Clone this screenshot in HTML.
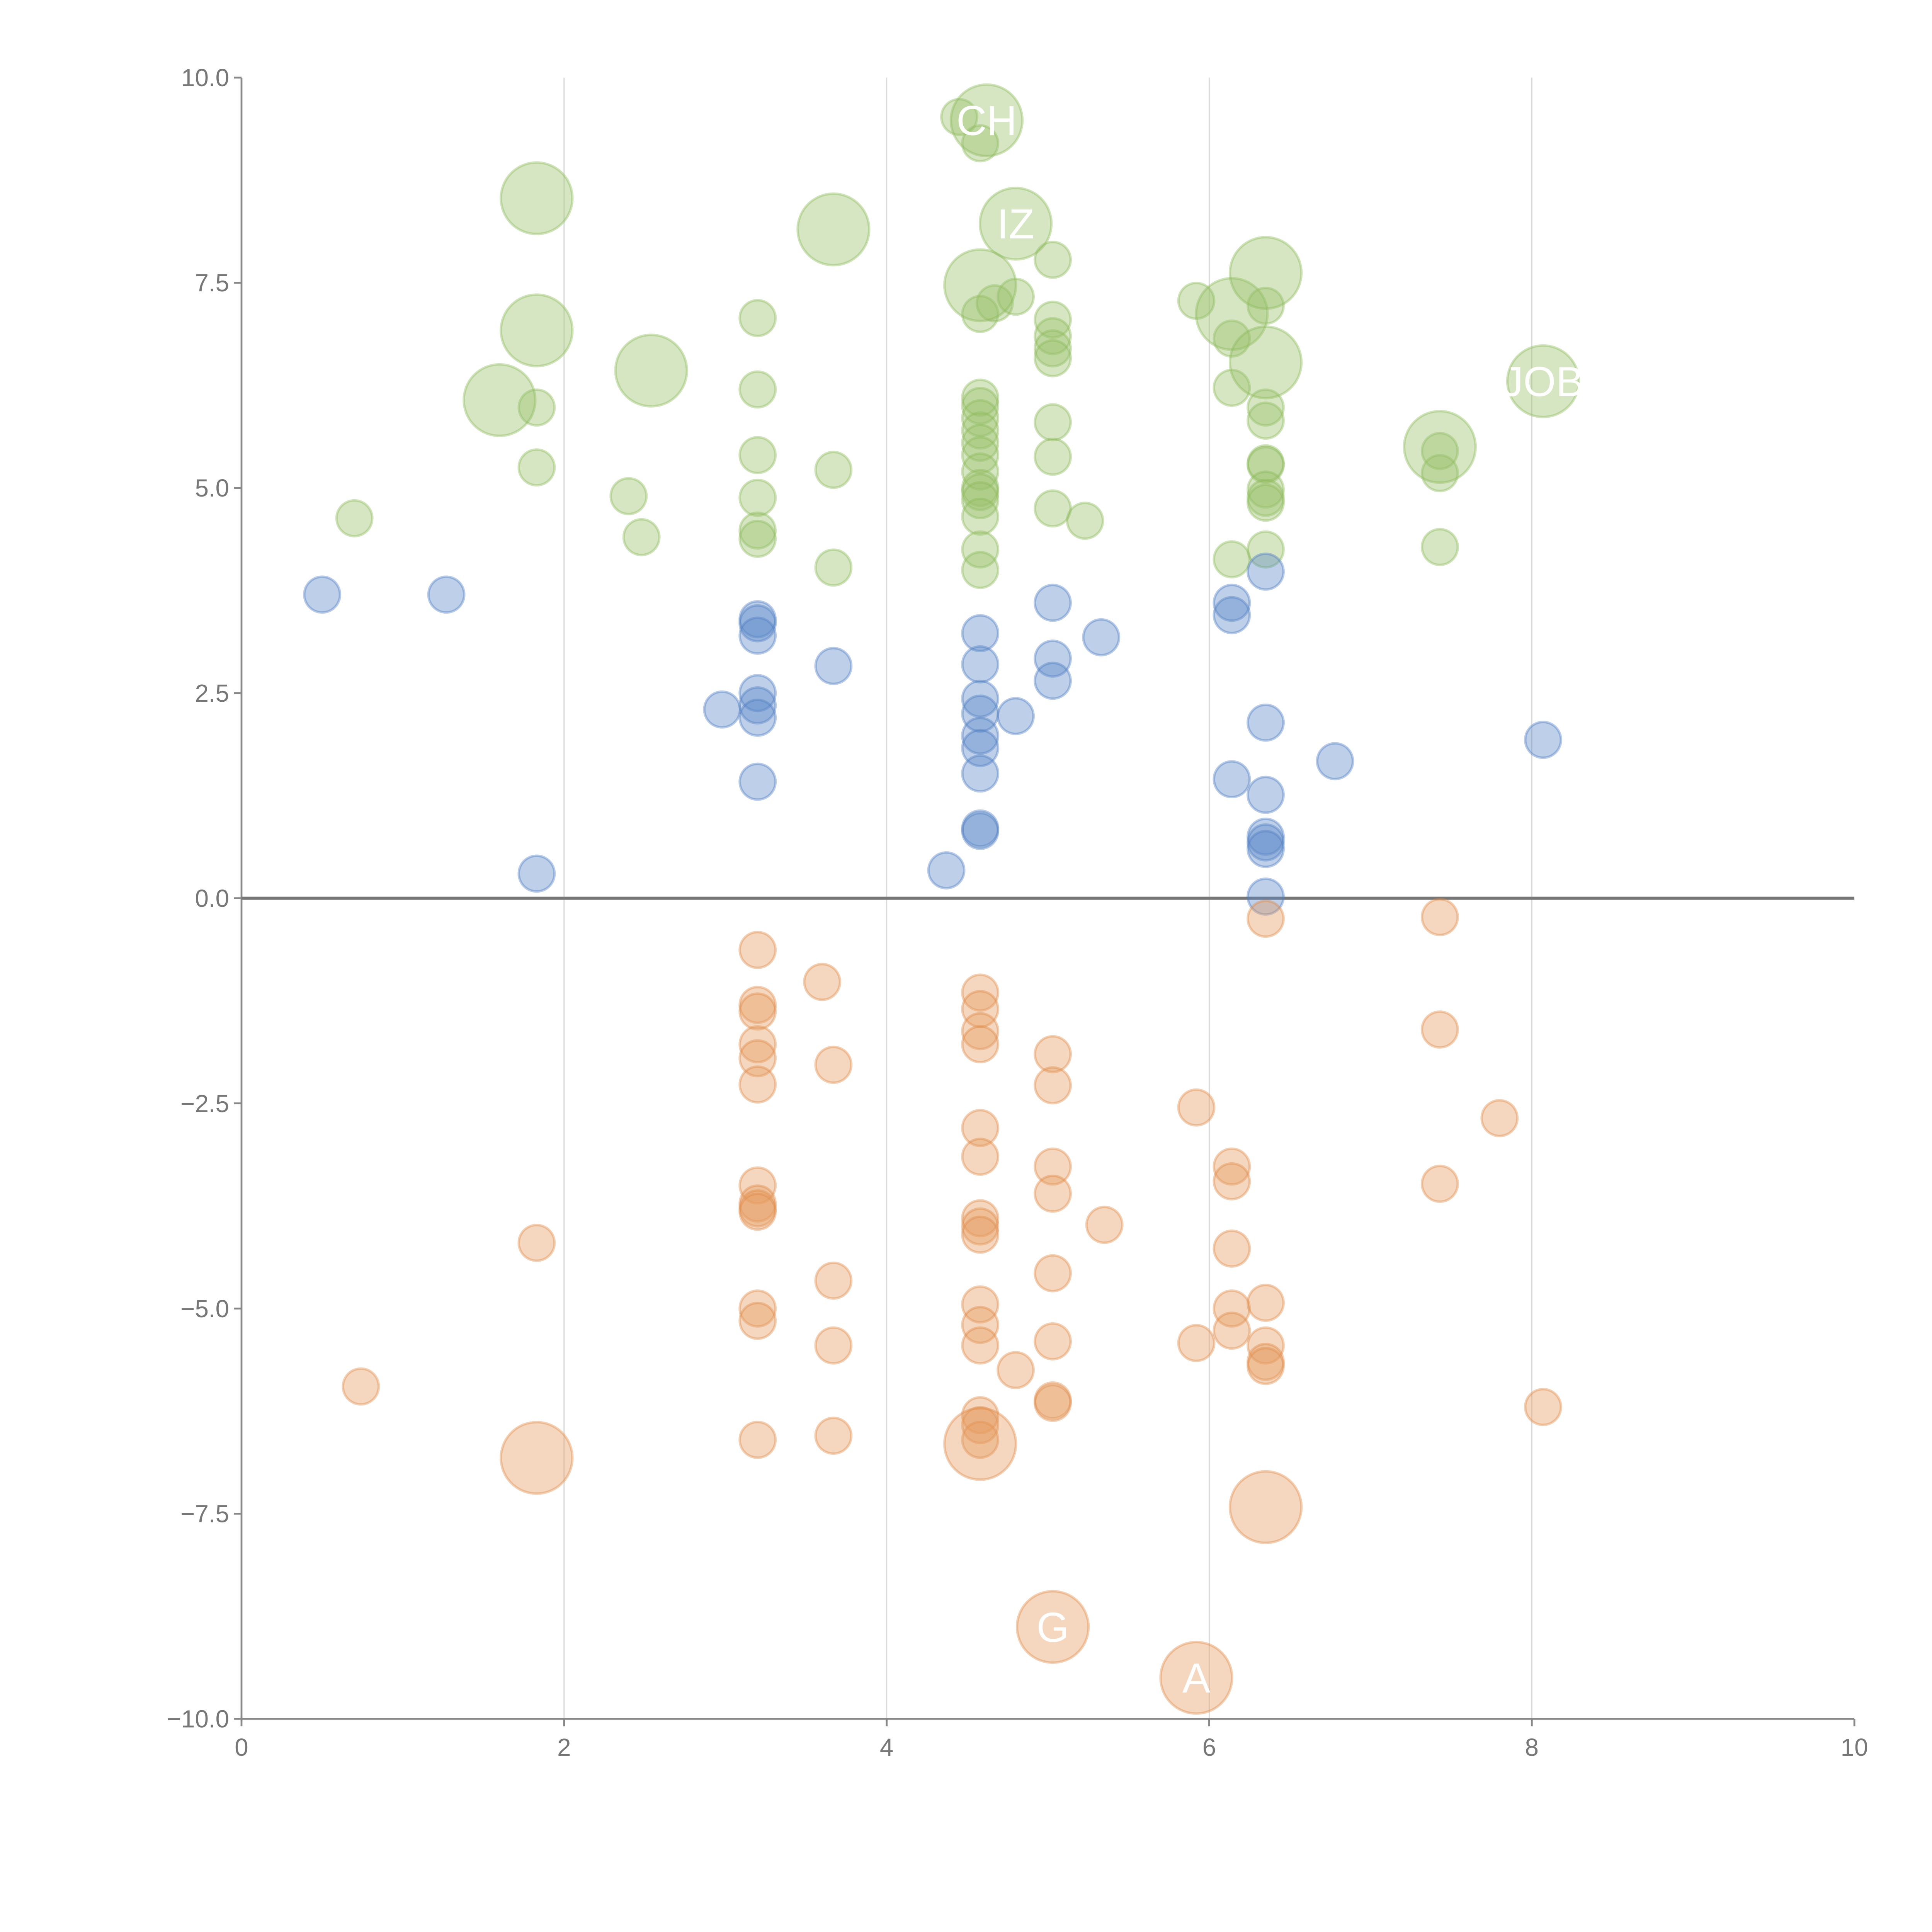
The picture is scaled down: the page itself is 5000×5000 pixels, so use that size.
<!DOCTYPE html>
<html><head><meta charset="utf-8"><style>
html,body{margin:0;padding:0;background:#fff;width:5000px;height:5000px;overflow:hidden}
svg{display:block}
text{font-family:"Liberation Sans",Arial,sans-serif}
</style></head><body>
<svg id="chart" width="5000" height="5000" viewBox="0 0 1568 1568" xmlns="http://www.w3.org/2000/svg">
<g id="grid"></g>
<g id="axes"></g>
<g id="marks"></g>
</svg>
<script>
const xTicks=[0,2,4,6,8,10];
const yTicks=[10,7.5,5,2.5,0,-2.5,-5,-7.5,-10];
const yTickLabels=["10.0","7.5","5.0","2.5","0.0","\u22122.5","\u22125.0","\u22127.5","\u221210.0"];
const blueX=[0.5,1.27,1.83,2.98,3.2,3.2,3.2,3.2,3.2,3.2,3.2,3.67,4.37,4.58,4.58,4.58,4.58,4.58,4.58,4.58,4.58,4.58,4.8,5.03,5.03,5.03,5.33,6.14,6.14,6.14,6.35,6.35,6.35,6.35,6.35,6.35,6.35,6.78,8.07];
const blueY=[3.7,3.7,0.3,2.3,3.4,3.35,3.2,2.5,2.35,2.2,1.42,2.83,0.34,3.23,2.85,2.43,2.25,1.98,1.83,1.52,0.85,0.82,2.22,3.6,2.92,2.65,3.18,3.6,3.45,1.45,3.98,2.14,1.26,0.75,0.68,0.6,0.02,1.67,1.93];
const greenX=[0.7,1.83,1.83,2.4,2.48,3.2,3.2,3.2,3.2,3.2,3.2,3.67,3.67,4.58,4.58,4.67,4.58,4.58,4.58,4.58,4.58,4.58,4.58,4.58,4.58,4.58,4.58,4.58,4.58,4.8,5.03,5.03,5.03,5.03,5.03,5.03,5.03,5.03,5.23,5.92,6.14,6.14,6.14,6.35,6.35,6.35,6.35,6.35,6.35,6.35,6.35,6.35,7.43,7.43,7.43,4.45];
const greenY=[4.63,5.25,5.98,4.9,4.4,7.07,6.2,5.4,4.88,4.48,4.38,5.22,4.03,9.2,7.12,7.25,6.1,6.0,5.85,5.7,5.55,5.4,5.2,5.0,4.95,4.85,4.65,4.25,4.0,7.33,7.78,7.05,6.85,6.7,6.58,5.8,5.38,4.75,4.6,7.28,6.82,6.22,4.13,7.22,5.98,5.82,5.3,5.28,4.98,4.88,4.82,4.25,5.45,5.18,4.28,9.52];
const greenBigX=[1.83,1.83,1.6,2.54,3.67,4.62,4.58,4.8,6.14,6.35,6.35,7.43,8.07];
const greenBigY=[8.53,6.92,6.07,6.43,8.15,9.48,7.47,8.22,7.12,7.62,6.53,5.5,6.3];
const greenBigLabels=["","","","","","CH","","IZ","","","","","JOB"];
const orangeX=[0.74,1.83,3.2,3.2,3.2,3.2,3.2,3.2,3.2,3.2,3.2,3.2,3.2,3.2,3.2,3.6,3.67,3.67,3.67,3.67,4.58,4.58,4.58,4.58,4.58,4.58,4.58,4.58,4.58,4.58,4.58,4.58,4.58,4.58,4.58,4.8,5.03,5.03,5.03,5.03,5.03,5.03,5.03,5.03,5.35,5.92,5.92,6.14,6.14,6.14,6.14,6.14,6.35,6.35,6.35,6.35,6.35,7.43,7.43,7.43,7.8,8.07];
const orangeY=[-5.95,-4.2,-0.63,-1.3,-1.38,-1.78,-1.95,-2.27,-3.5,-3.72,-3.78,-3.82,-5.0,-5.15,-6.6,-1.02,-2.03,-4.66,-5.45,-6.55,-1.15,-1.35,-1.62,-1.78,-2.8,-3.15,-3.9,-4.0,-4.1,-4.95,-5.2,-5.45,-6.3,-6.42,-6.6,-5.75,-1.9,-2.28,-3.27,-3.6,-4.57,-5.4,-6.12,-6.15,-3.98,-2.55,-5.42,-3.27,-3.45,-4.27,-5.0,-5.27,-0.25,-4.93,-5.45,-5.65,-5.7,-0.23,-1.6,-3.48,-2.68,-6.2];
const orangeBigX=[1.83,4.58,5.03,5.92,6.35];
const orangeBigY=[-6.82,-6.65,-8.88,-9.5,-7.42];
const orangeBigLabels=["","","G","A",""];

const NS="http://www.w3.org/2000/svg";
const X0=196,X1=1505,YT=63,YB=1395;
const sx=v=>X0+(v-0)/(10-0)*(X1-X0);
const sy=v=>YB-(v+10)/20*(YB-YT);
function mk(tag,attrs,parent){const e=document.createElementNS(NS,tag);for(const k in attrs)e.setAttribute(k,attrs[k]);parent.appendChild(e);return e;}
const grid=document.getElementById('grid'),axes=document.getElementById('axes'),marks=document.getElementById('marks');
xTicks.forEach(t=>{if(t>0&&t<10){const l=mk('line',{x1:sx(t),x2:sx(t),y1:YT,y2:YB,stroke:'#dcdcdc','stroke-width':1},grid);

}});
let a=mk('line',{x1:X0,x2:X0,y1:YT,y2:YB,stroke:'#888','stroke-width':1.5},axes);


a=mk('line',{x1:X0,x2:X1,y1:YB,y2:YB,stroke:'#888','stroke-width':1.5},axes);


xTicks.forEach(t=>{mk('line',{x1:sx(t),x2:sx(t),y1:YB,y2:YB+6,stroke:'#888','stroke-width':1.5},axes);
const tx=mk('text',{x:sx(t),y:YB+30,'text-anchor':'middle','font-size':20,fill:'#777'},axes);tx.textContent=t;

});
yTicks.forEach((t,i)=>{mk('line',{x1:X0-6,x2:X0,y1:sy(t),y2:sy(t),stroke:'#888','stroke-width':1.5},axes);
const tx=mk('text',{x:X0-10,y:sy(t)+7,'text-anchor':'end','font-size':20,fill:'#777'},axes);tx.textContent=yTickLabels[i];

});
a=mk('line',{x1:X0,x2:X1,y1:sy(0),y2:sy(0),stroke:'#777','stroke-width':2.5},axes);


function series(xs,ys,r,fill,stroke,name,labels){
  xs.forEach((x,i)=>{const c=mk('circle',{cx:sx(x),cy:sy(ys[i]),r:r,fill:fill,'fill-opacity':0.4,stroke:stroke,'stroke-opacity':0.4,'stroke-width':2},marks);
  
  
  if(labels&&labels[i]){const t=mk('text',{x:sx(x),y:sy(ys[i])+12,'text-anchor':'middle','font-size':34,fill:'#fff'},marks);t.textContent=labels[i];
  
  }});
}
series(greenX,greenY,14.5,'#99c068','#8cb85a','green-bubble');
series(greenBigX,greenBigY,29,'#99c068','#8cb85a','green-big-bubble',greenBigLabels);
series(blueX,blueY,14.5,'#5b88c8','#4f7dc0','blue-bubble');
series(orangeX,orangeY,14.5,'#e59a5f','#de8a48','orange-bubble');
series(orangeBigX,orangeBigY,29,'#e59a5f','#de8a48','orange-big-bubble',orangeBigLabels);
</script>
</body></html>
